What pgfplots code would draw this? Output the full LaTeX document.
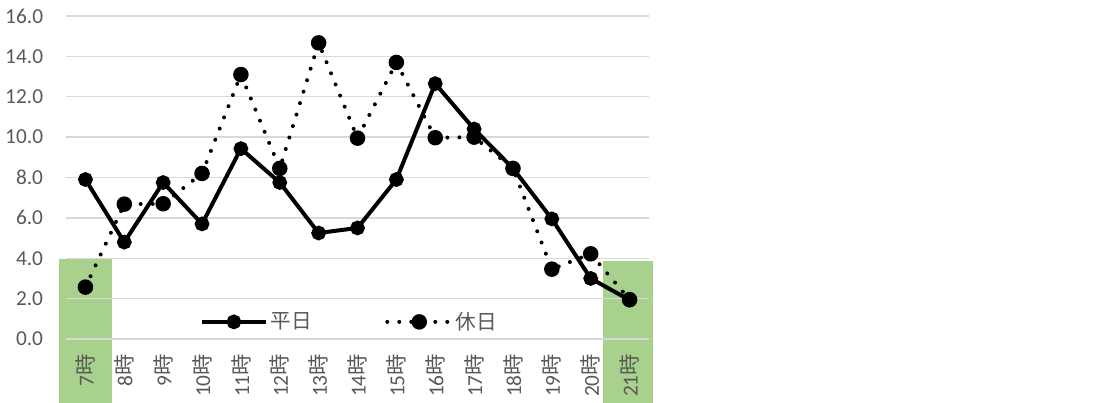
\documentclass[border=0pt]{standalone}
\usepackage{fontspec}
\setmainfont{Carlito}
\newfontfamily\cjk{Noto Sans CJK JP}
\usepackage{pgfplots}
\pgfplotsset{compat=1.18}
\definecolor{lblgray}{HTML}{595959}
\definecolor{gridgray}{HTML}{D9D9D9}
\definecolor{hlgreen}{HTML}{A9D18E}
\newcommand\ji{{\cjk 時}}
\begin{document}
\begin{tikzpicture}
\begin{axis}[
  set layers,
  at={(0,0)}, anchor=south west,
  scale only axis, width=437.25pt, height=242.25pt,
  xmin=-0.5, xmax=14.5, ymin=0, ymax=16,
  ytick={0,2,...,16},
  xtick={0,...,14},
  xticklabels={7\ji,8\ji,9\ji,10\ji,11\ji,12\ji,13\ji,14\ji,15\ji,16\ji,17\ji,18\ji,19\ji,20\ji,21\ji},
  axis line style={draw=none},
  major tick length=0pt,
  ymajorgrids, grid style={gridgray, line width=1.1pt},
  clip=false,
  tick label style={text=lblgray},
  yticklabel style={font=\fontsize{16pt}{16pt}\selectfont, inner xsep=0pt, xshift=-17pt,
    /pgf/number format/.cd, fixed, fixed zerofill, precision=1, assume math mode=true},
  xticklabel style={font=\fontsize{16pt}{16pt}\selectfont, rotate=90, anchor=east, inner xsep=0pt, xshift=-11pt},
  legend style={draw=none, fill=none, at={(0.487,0.053)}, anchor=center,
    font=\cjk\fontsize{15.5}{15.5}\selectfont, text=lblgray,
    /tikz/every even column/.append style={column sep=53pt}},
  legend columns=2,
  legend image code/.code={\draw[mark repeat=2,mark phase=2,#1] plot coordinates {(0pt,0pt) (24pt,0pt) (48pt,0pt)};},
]
\pgfplotsextra{%
\begin{pgfonlayer}{axis background}
\fill[hlgreen] (axis cs:-0.68,-3.6) rectangle (axis cs:0.68,3.95);
\fill[hlgreen] (axis cs:13.32,-3.6) rectangle (axis cs:14.6,3.85);
\end{pgfonlayer}}
\addplot[black, line width=3pt, mark=*, mark size=4pt] coordinates {
(0,7.9) (1,4.8) (2,7.75) (3,5.7) (4,9.43) (5,7.75) (6,5.25) (7,5.5) (8,7.9) (9,12.65) (10,10.4) (11,8.45) (12,5.95) (13,3.0) (14,1.93)};
\addlegendentry{平日}
\addplot[black, line width=3pt, line cap=round, dash pattern=on 0pt off 9pt, mark=*, mark size=4.3pt, mark options={solid}] coordinates {
(0,2.57) (1,6.68) (2,6.7) (3,8.2) (4,13.1) (5,8.45) (6,14.67) (7,9.95) (8,13.7) (9,9.97) (10,10.0) (11,8.45) (12,3.46) (13,4.22) (14,1.95)};
\addlegendentry{休日}
\end{axis}
\pgfresetboundingbox
\path[use as bounding box] (-49.5pt,-48pt) rectangle (771.75pt,254.25pt);
\end{tikzpicture}
\end{document}
